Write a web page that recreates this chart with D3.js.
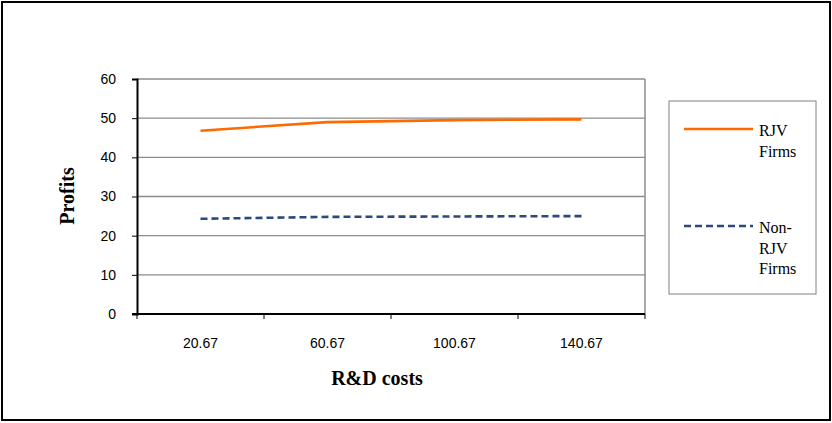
<!DOCTYPE html>
<html>
<head>
<meta charset="utf-8">
<script src="https://cdn.jsdelivr.net/npm/d3@7"></script>
<style>
  html, body { margin: 0; padding: 0; background: #fff; }
  svg { display: block; }
  .serif { font-family: "Liberation Serif", "Times New Roman", "DejaVu Serif", serif; }
  .sans { font-family: "Liberation Sans", Arial, sans-serif; }
</style>
</head>
<body>
<svg id="chart" width="832" height="423"></svg>
<script>
// R&D cost levels on the category axis
const categories = ["20.67", "60.67", "100.67", "140.67"];
// Profits per firm type
const rjvFirms = [46.8, 49.0, 49.5, 49.7];
const nonRjvFirms = [24.3, 24.8, 24.9, 25.0];
// Value axis ticks
const yTicks = [0, 10, 20, 30, 40, 50, 60];

const svg = d3.select("#chart");
const W = 832, H = 423;

// outer frame
svg.append("rect")
  .attr("x", 2).attr("y", 2).attr("width", W - 4).attr("height", H - 5)
  .attr("fill", "#fff").attr("stroke", "#000").attr("stroke-width", 2);

const plot = { left: 137, right: 645, top: 79, bottom: 314 };

const x = d3.scaleBand().domain(categories).range([plot.left, plot.right]).padding(0);
const y = d3.scaleLinear().domain([0, 60]).range([plot.bottom, plot.top]);

// horizontal gridlines
svg.append("g").selectAll("line").data(yTicks.filter(d => d > 0)).join("line")
  .attr("x1", plot.left).attr("x2", plot.right)
  .attr("y1", d => y(d)).attr("y2", d => y(d))
  .attr("stroke", "#8c8c8c").attr("stroke-width", 1.3);

// right border of plot area
svg.append("line")
  .attr("x1", plot.right).attr("x2", plot.right)
  .attr("y1", plot.top).attr("y2", plot.bottom)
  .attr("stroke", "#8c8c8c").attr("stroke-width", 1.5);

// y axis
const yAxis = d3.axisLeft(y).tickValues(yTicks).tickSize(5).tickPadding(16);
const gy = svg.append("g").attr("transform", `translate(${plot.left},0)`).call(yAxis);
gy.attr("font-family", null).attr("font-size", null);
gy.select(".domain").attr("stroke", "#000").attr("stroke-width", 2);
gy.selectAll(".tick line").attr("stroke", "#000");
gy.selectAll(".tick text")
  .attr("class", "sans")
  .attr("font-size", 14).attr("fill", "#000");

// x axis with ticks on band boundaries
const gx = svg.append("g").attr("transform", `translate(0,${plot.bottom})`);
gx.append("line")
  .attr("x1", plot.left - 5).attr("x2", plot.right)
  .attr("stroke", "#000").attr("stroke-width", 2);
const bounds = categories.map(c => x(c)).concat([x(categories[categories.length - 1]) + x.bandwidth()]);
gx.selectAll("line.tk").data(bounds).join("line").attr("class", "tk")
  .attr("x1", d => d).attr("x2", d => d).attr("y1", 0).attr("y2", 5)
  .attr("stroke", "#000").attr("stroke-width", 1);
gx.selectAll("text").data(categories).join("text")
  .attr("class", "sans")
  .attr("x", d => x(d) + x.bandwidth() / 2)
  .attr("y", 34)
  .attr("text-anchor", "middle")
  .attr("font-size", 14).attr("fill", "#000")
  .text(d => d);

// series lines
const line = d3.line()
  .x((d, i) => x(categories[i]) + x.bandwidth() / 2)
  .y(d => y(d));

svg.append("path").datum(rjvFirms)
  .attr("d", line).attr("fill", "none")
  .attr("stroke", "#ff6a00").attr("stroke-width", 2.6);

svg.append("path").datum(nonRjvFirms)
  .attr("d", line).attr("fill", "none")
  .attr("stroke", "#2a4a7c").attr("stroke-width", 2.6)
  .attr("stroke-dasharray", "7,4");

// axis titles
svg.append("text")
  .attr("class", "serif")
  .attr("transform", "translate(74,196) rotate(-90)")
  .attr("text-anchor", "middle")
  .attr("font-weight", "bold").attr("font-size", 20)
  .text("Profits");

svg.append("text")
  .attr("class", "serif")
  .attr("x", 377).attr("y", 385)
  .attr("text-anchor", "middle")
  .attr("font-weight", "bold").attr("font-size", 20)
  .text("R&D costs");

// legend
const legend = svg.append("g");
legend.append("rect")
  .attr("x", 669).attr("y", 101).attr("width", 147).attr("height", 193)
  .attr("fill", "#fff").attr("stroke", "#808080").attr("stroke-width", 1);

const legendItems = [
  { lines: ["RJV", "Firms"], color: "#ff6a00", dash: null, y: 129 },
  { lines: ["Non-", "RJV", "Firms"], color: "#2a4a7c", dash: "7,4", y: 226 }
];
legendItems.forEach(item => {
  legend.append("line")
    .attr("x1", 684).attr("x2", 753).attr("y1", item.y).attr("y2", item.y)
    .attr("stroke", item.color).attr("stroke-width", 2.6)
    .attr("stroke-dasharray", item.dash);
  const t = legend.append("text")
    .attr("class", "serif")
    .attr("font-size", 16).attr("fill", "#000");
  item.lines.forEach((s, i) => {
    t.append("tspan").attr("x", 759).attr("y", item.y + 7 + i * 20.5).text(s);
  });
});
</script>
</body>
</html>
